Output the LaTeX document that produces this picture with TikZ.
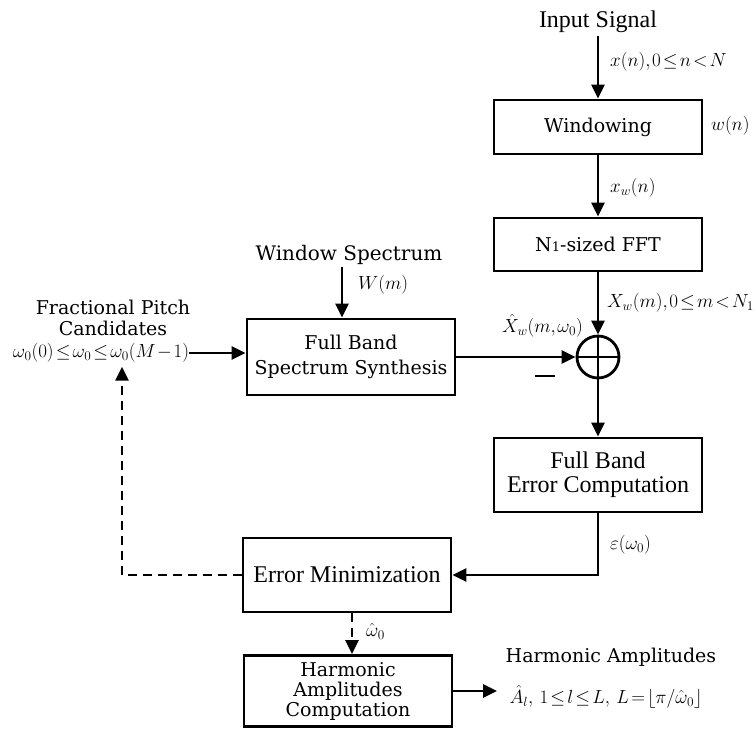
\RequirePackage{fix-cm}
\documentclass[tikz,border=0pt]{standalone}
\usepackage{fontspec}
\setmainfont{Liberation Serif}
\newfontfamily\widefont{DejaVu Serif}
\usetikzlibrary{arrows.meta,calc}
\newcommand\tightmath{\thickmuskip=2mu plus 1mu\medmuskip=1.5mu\thinmuskip=1.5mu}
\begin{document}
\begin{tikzpicture}[x=1pt,y=-1pt,
  blk/.style={draw,line width=2.8pt,minimum width=208pt,align=center,inner sep=0pt},
  tt/.style={font=\fontsize{24}{24}\selectfont},
  wt/.style={font=\widefont\fontsize{19}{21}\selectfont},
  ml/.style={font=\fontsize{19}{20}\selectfont\tightmath,inner sep=0pt},
  arr/.style={line width=2.7pt,-{Triangle[length=14pt,width=13pt]}},
  dsh/.style={arr,dash pattern=on 9pt off 6pt},
]
\useasboundingbox (0,0) rectangle (756,729);
% blocks
\node[tt] (in) at (598,22) {Input Signal};
\node[blk,wt,minimum height=54pt] (win) at (598,127) {Windowing};
\node[blk,wt,minimum height=53pt] (fft) at (598,244.5) {N{\fontsize{13}{13}\selectfont 1}-sized FFT};
\node[blk,wt,minimum height=76pt] (fbs) at (351,357) {Full Band\\[4pt]Spectrum Synthesis};
\node[draw,circle,line width=2.8pt,minimum size=42pt,inner sep=0pt] (sum) at (598,357) {};
\draw[line width=2.6pt] (sum.west) -- (sum.east) (sum.north) -- (sum.south);
\node[blk,tt,minimum height=74pt] (fbe) at (598,475) {Full Band\\Error Computation};
\node[blk,tt,minimum height=74pt] (emin) at (347,575) {Error Minimization};
\node[blk,wt,minimum height=71pt,font=\widefont\fontsize{19}{20}\selectfont] (ham) at (348,691) {Harmonic\\Amplitudes\\Computation};
% texts
\node[wt,font=\widefont\fontsize{20}{22}\selectfont] (wsp) at (349,255) {Window Spectrum};
\node[wt,align=center] (fpc) at (113,318) {Fractional Pitch\\Candidates};
\node[ml] (fpf) at (101,353) {$\omega_0(0)\le\omega_0\le\omega_0(M-1)$};
\node[wt] (ha) at (611,657) {Harmonic Amplitudes};
\node[ml] (haf) at (606,697) {$\hat A_l,\ 1\le l\le L,\ L=\lfloor\pi/\hat\omega_0\rfloor$};
% labels
\node[ml,anchor=west] (lx) at (610,62) {$x(n),0\le n<N$};
\node[ml,anchor=west] (lw) at (711,126) {$w(n)$};
\node[ml,anchor=west] (lxw) at (610,188) {$x_w(n)$};
\node[ml,anchor=west] (lXw) at (607,303) {$X_w(m),0\le m<N_1$};
\node[ml,anchor=east] (lXh) at (583,326) {$\hat X_w(m,\omega_0)$};
\node[ml,anchor=west] (lW) at (358,285) {$W(m)$};
\node[ml,anchor=west] (le) at (610,545) {$\varepsilon(\omega_0)$};
\node[ml,anchor=west] (lo) at (366,631) {$\hat\omega_0$};
\node[inner sep=0pt] (minus) at (545,376) {\rule{20pt}{2.8pt}};
% connectors
\draw[arr] (in.south) -- (win.north);
\draw[arr] (win.south) -- (fft.north);
\draw[arr] (fft.south) -- (sum.north);
\coordinate (wsA) at (342,267);
\draw[arr] (wsA) -- (wsA |- fbs.north);
\draw[arr] (fbs.east) -- (sum.west);
\draw[arr] (sum.south) -- (fbe.north);
\draw[arr] (fbe.south) |- (emin.east);
\coordinate (dx) at (352,0);
\draw[dsh] (emin.south -| dx) -- (ham.north -| dx);
\coordinate (hout) at (497,693);
\draw[arr] (ham.east) -- (ham.east -| hout);
\draw[arr] (fpf.east) -- (fpf.east -| fbs.west);
\coordinate (fb) at (122,575);
\draw[dsh] (emin.west) -- (fb) -- ($(fb |- fpf.south)+(0,4)$);
\end{tikzpicture}
\end{document}
